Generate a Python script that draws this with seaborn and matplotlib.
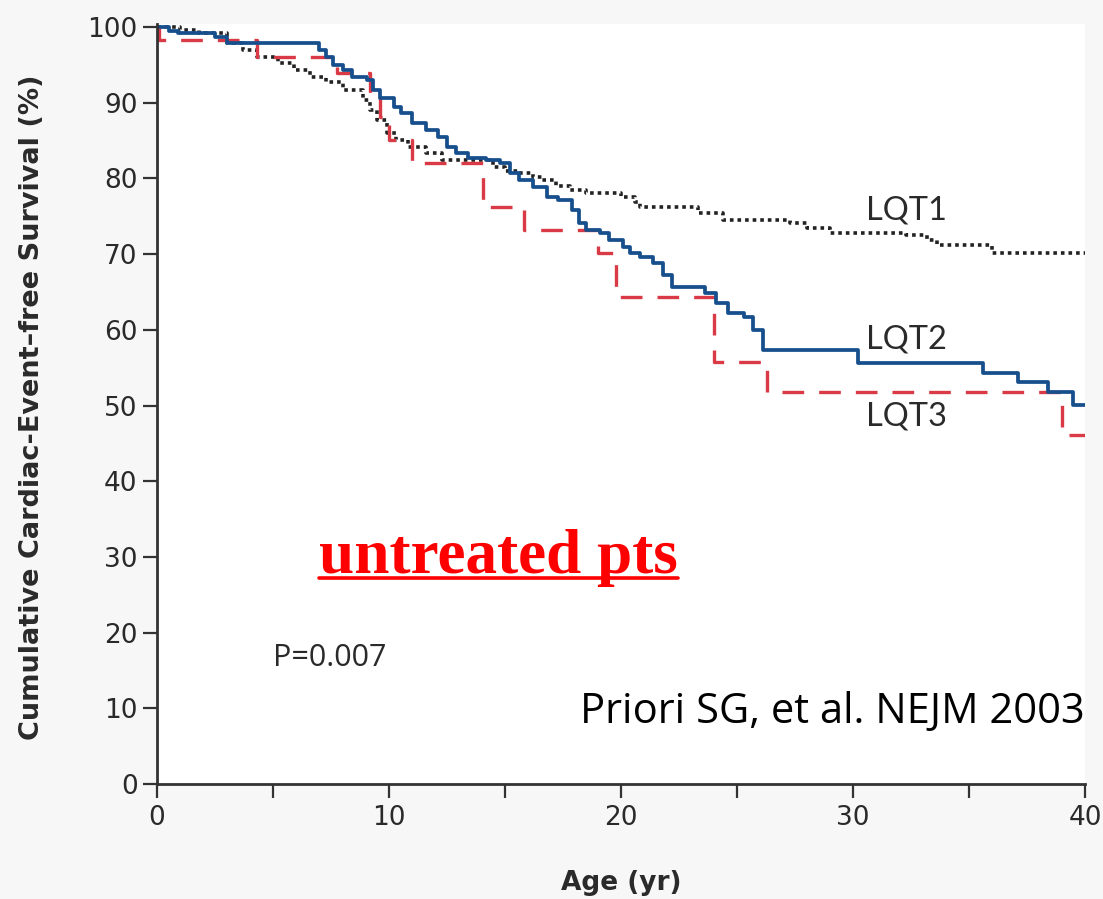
import numpy as np
import pandas as pd
import matplotlib
matplotlib.use("Agg")
import matplotlib.pyplot as plt
import seaborn as sns

# ---- data ----
lqt1_t = [0, 1.0, 1.8, 3.0, 3.7, 4.3, 5.2, 5.9, 6.6, 7.3, 8.0, 8.9, 9.2, 9.5, 9.9,
          10.3, 10.8, 11.6, 12.3, 14.5, 15.0, 15.6, 16.2, 16.6, 17.2, 17.8, 18.5,
          20.0, 20.6, 20.8, 23.3, 24.4, 27.3, 28.0, 29.0, 32.3, 33.2, 33.6, 36.0, 40]
lqt1_s = [100, 99.6, 99.2, 97.9, 97.0, 96.0, 95.2, 94.3, 93.4, 92.7, 91.7, 90.4, 89.0,
          87.7, 86.0, 85.1, 84.1, 83.4, 82.4, 81.5, 81.0, 80.7, 80.2, 79.8, 79.0, 78.5,
          78.1, 77.5, 76.9, 76.2, 75.4, 74.5, 74.1, 73.5, 72.8, 72.5, 71.9, 71.2, 70.1, 70.1]

lqt2_t = [0, 0.5, 0.9, 2.5, 3.0, 7.0, 7.3, 7.6, 8.0, 8.4, 9.05, 9.3, 9.6, 10.2, 10.5,
          11.0, 11.6, 12.1, 12.5, 12.9, 13.4, 14.2, 14.8, 15.2, 15.6, 16.2, 16.8, 17.3,
          17.9, 18.2, 18.5, 19.1, 19.5, 20.1, 20.4, 20.8, 21.4, 21.8, 22.2, 23.6, 24.1,
          24.6, 25.3, 25.7, 26.1, 30.2, 35.6, 37.1, 38.4, 39.5, 40]
lqt2_s = [100, 99.5, 99.2, 98.7, 97.9, 97.0, 96.0, 95.0, 94.3, 93.4, 93.0, 91.7, 90.6,
          89.4, 88.6, 87.3, 86.4, 85.5, 84.1, 83.4, 82.7, 82.4, 82.0, 80.7, 79.8, 78.9,
          77.5, 77.1, 75.8, 74.1, 73.2, 72.8, 71.9, 70.9, 70.1, 69.6, 68.8, 67.3, 65.7,
          64.9, 63.5, 62.2, 61.7, 60.0, 57.3, 55.6, 54.3, 53.1, 51.8, 50.1, 50.1]

lqt3_t = [0, 0.1, 4.3, 7.75, 9.2, 9.6, 10.0, 11.0, 14.05, 15.8, 19.0, 19.8, 24.0, 26.3, 39.0, 40]
lqt3_s = [100, 98.3, 96.0, 93.9, 91.3, 88.1, 85.1, 82.0, 76.2, 73.2, 70.1, 64.3, 55.7, 51.8, 46.1, 46.1]

x_ticks = [0, 10, 20, 30, 40]
x_minor = [5, 15, 25, 35]
y_ticks = [0, 10, 20, 30, 40, 50, 60, 70, 80, 90, 100]

series_names = ["LQT1", "LQT2", "LQT3"]
label_pos = [(30.55, 75.8), (30.55, 58.7), (30.55, 48.5)]

# ---- styling ----
sns.set_theme(style="white")
plt.rcParams["font.family"] = ["DejaVu Sans"]
BG = "#f7f7f7"
INK = "#2a2a2a"

fig = plt.figure(figsize=(11.03, 8.99), dpi=100, facecolor=BG)
ax = fig.add_axes([157 / 1103, 1 - 784 / 899, (1085 - 157) / 1103, (784 - 24) / 899])
ax.set_facecolor("white")

df1 = pd.DataFrame({"t": lqt1_t, "s": lqt1_s})
df2 = pd.DataFrame({"t": lqt2_t, "s": lqt2_s})
df3 = pd.DataFrame({"t": lqt3_t, "s": lqt3_s})

sns.lineplot(data=df1, x="t", y="s", ax=ax, estimator=None, sort=False,
             drawstyle="steps-post", color="#222222", linewidth=2.6,
             linestyle=(0, (1.0, 1.1)))
sns.lineplot(data=df3, x="t", y="s", ax=ax, estimator=None, sort=False,
             drawstyle="steps-post", color="#d93a45", linewidth=2.4,
             linestyle=(0, (6.5, 4.5)))
sns.lineplot(data=df2, x="t", y="s", ax=ax, estimator=None, sort=False,
             drawstyle="steps-post", color="#174f8c", linewidth=2.7)

ax.set_xlim(0, 40)
ax.set_ylim(0, 100.4)
ax.set_xticks(x_ticks)
ax.set_xticks(x_minor, minor=True)
ax.set_yticks(y_ticks)
ax.tick_params(axis="both", which="both", direction="out", length=10, width=1.6,
               color="#333333", labelcolor=INK, labelsize=19, pad=4,
               bottom=True, left=True)
ax.tick_params(axis="x", which="major", pad=5)

for side in ["top", "right"]:
    ax.spines[side].set_visible(False)
for side in ["left", "bottom"]:
    ax.spines[side].set_color("#333333")
    ax.spines[side].set_linewidth(2.0)

ax.set_xlabel("Age (yr)", fontsize=19, fontweight="bold", color=INK, labelpad=28)
ax.set_ylabel("Cumulative Cardiac-Event\u2013free Survival (%)", fontsize=19.5,
              fontweight="bold", color=INK)
ax.yaxis.set_label_coords(-0.121, 0.496)

for name, (lx, ly) in zip(series_names, label_pos):
    ax.text(lx, ly, name, fontsize=23.5, color=INK, ha="left", va="center",
            family="Lato")

ax.text(5.0, 16.6, "P=0.007", fontsize=22, color=INK, ha="left", va="center",
        family="Open Sans")

t = ax.text(7.0, 27.9, "untreated pts", fontsize=45.5, fontweight="bold",
            color="#ff0000", family="Liberation Serif", ha="left", va="baseline")

fig.text(1085 / 1103, 1 - 712 / 899, "Priori SG, et al. NEJM 2003", fontsize=30,
         color="black", ha="right", va="center", family="Open Sans")

# underline under "untreated pts" (just below its baseline)
fig.canvas.draw()
renderer = fig.canvas.get_renderer()
bb = t.get_window_extent(renderer=renderer)
base_px = ax.transData.transform((7.0, 27.9))[1]
inv = fig.transFigure.inverted()
(x0, yu), (x1, _) = inv.transform([(bb.x0, base_px - 5), (bb.x1, base_px - 5)])
fig.add_artist(plt.Line2D([x0, x1], [yu, yu], color="#ff0000",
                          linewidth=2.6, transform=fig.transFigure))

fig.savefig("out.png", dpi=100, facecolor=BG)
